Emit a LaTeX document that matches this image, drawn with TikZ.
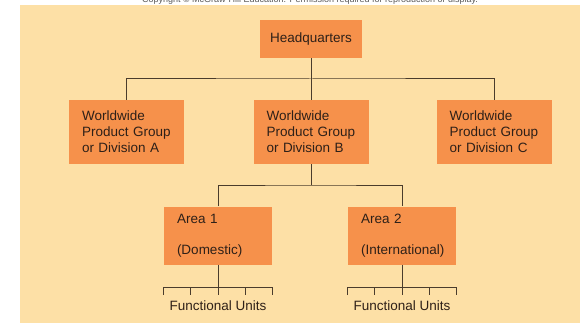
\documentclass[tikz,border=0pt]{standalone}
\usepackage{fontspec}
\setmainfont{Liberation Sans}
\definecolor{paper}{HTML}{FDE0A6}
\definecolor{boxfill}{HTML}{F6914B}
\definecolor{ink}{HTML}{2E2018}
\definecolor{wire}{HTML}{4A3C2C}
\begin{document}
\begin{tikzpicture}[x=1pt, y=-1pt,
    unit/.style={fill=boxfill, text=ink, inner sep=0pt, font=\fontsize{13.5}{16}\selectfont},
    divbox/.style={unit, minimum width=115, minimum height=64, text width=89, align=left},
    areabox/.style={unit, minimum width=108, minimum height=58, text width=82, align=left},
    link/.style={draw=wire, line width=1pt},
    label/.style={text=ink, font=\fontsize{13.5}{16}\selectfont}]
    \useasboundingbox (0,0) rectangle (580,323);
    \fill[paper] (20,5) rectangle (580,323);
    \node[anchor=base, text=black!65, font=\fontsize{9}{10}\selectfont] (copy) at (310,2.5)
        {Copyright \textcopyright{} McGraw-Hill Education. Permission required for reproduction or display.};
    \node[unit, minimum width=102, minimum height=38] (hq) at (311,39) {Headquarters};
    \node[divbox] (divA) at (126.5,132) {Worldwide\\Product Group\\or Division A};
    \node[divbox] (divB) at (311,132) {Worldwide\\Product Group\\or Division B};
    \node[divbox] (divC) at (494,132) {Worldwide\\Product Group\\or Division C};
    \node[areabox] (area1) at (218,235.5) {Area 1\\[15pt](Domestic)};
    \node[areabox] (area2) at (402,235.5) {Area 2\\[15pt](International)};
    \coordinate (topbar) at (311,79);
    \coordinate (midbar) at (311,185);
    \draw[link] (hq.south) -- (divB.north);
    \draw[link] (divA.north) |- (topbar) -| (divC.north);
    \draw[link] (divB.south) -- (midbar);
    \draw[link] (area1.north) |- (midbar) -| (area2.north);
    \foreach \a/\x in {area1/218, area2/402}
      {
        \coordinate (\a-foot) at (\x,295);
        \draw[link] (\a.south) -- (\a-foot);
        \begin{scope}[xshift=\x]
            \draw[link] (-54.5,295) -- (-54.5,287) -- (54.5,287) -- (54.5,295);
            \foreach \t in {-27.25,27.25}
                \draw[link] (\t,287) -- (\t,295);
        \end{scope}
        \node[label] (\a-units) at (\x,306) {Functional Units};
      }
\end{tikzpicture}
\end{document}
